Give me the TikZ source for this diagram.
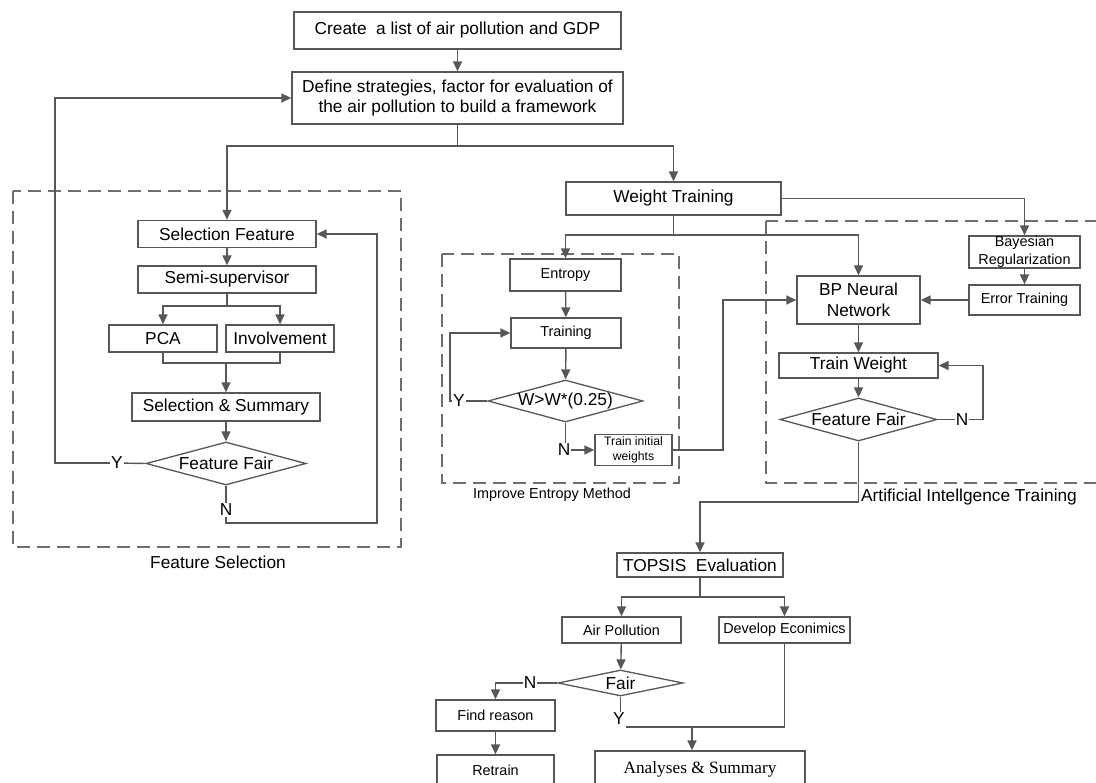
\documentclass[tikz,border=0pt]{standalone}
\usepackage{fontspec}
\setmainfont{Liberation Sans}
\newfontfamily\serifface{Liberation Serif}
\usepackage{tikz}
\usetikzlibrary{arrows.meta,shapes.geometric}
\definecolor{flowgray}{HTML}{575757}
\definecolor{dashgray}{HTML}{6E6E6E}
\newcommand{\bigtxt}{\fontsize{17.3}{20.5}\selectfont}
\newcommand{\midtxt}{\fontsize{14.4}{17.5}\selectfont}
\newcommand{\tinytxt}{\fontsize{12.2}{15}\selectfont}
\begin{document}
\begin{tikzpicture}[x=1pt, y=-1pt,
  stagebox/.style={draw=flowgray, line width=1.3pt, fill=white, inner sep=0pt,
                   align=center, font=\bigtxt},
  minorbox/.style={stagebox, font=\midtxt},
  testdia/.style={diamond, draw=flowgray, line width=1.3pt, fill=white, inner sep=0pt,
                  shape aspect=3.7, align=center, font=\bigtxt},
  flowtag/.style={inner sep=1pt, font=\bigtxt},
  groupframe/.style={draw=dashgray, line width=1.3pt, dash pattern=on 13pt off 7pt},
  arr/.style={-{Triangle[length=10pt,width=9pt]}, line width=1.4pt, draw=flowgray},
  wire/.style={line width=1.4pt, draw=flowgray}
]
\useasboundingbox (0,0) rectangle (1096,783);
\clip (0,0) rectangle (1096,783);

\draw[groupframe] (13,191) rectangle (401,547);
\draw[groupframe] (442,254) rectangle (679,483);
\draw[groupframe] (766,221) rectangle (1120,483);
\node[font=\bigtxt] (fslabel) at (218,562) {Feature Selection};
\node[font=\midtxt] (ielabel) at (552,495) {Improve Entropy Method};
\node[font=\bigtxt] (ailabel) at (969,497) {Artificial Intellgence Training};

\node[stagebox, minimum width=327pt, minimum height=37pt] (listing) at (457.5,30.5) {Create\ \ a list of air pollution and GDP};
\node[stagebox, minimum width=331pt, minimum height=52pt] (define) at (457.5,98) {Define strategies, factor for evaluation of\\the air pollution to build a framework};
\node[stagebox, minimum width=215pt, minimum height=33pt] (weight) at (673.5,198.5) {Weight Training};

\node[stagebox, minimum width=178pt, minimum height=27pt] (selfeat) at (227,234) {Selection Feature};
\node[stagebox, minimum width=178pt, minimum height=27pt] (semisup) at (227,279.5) {Semi-supervisor};
\node[stagebox, minimum width=108pt, minimum height=27pt] (pca) at (163,338.5) {PCA};
\node[stagebox, minimum width=108pt, minimum height=27pt] (involve) at (280,338.5) {Involvement};
\node[stagebox, minimum width=188pt, minimum height=28pt] (selsum) at (226,407) {Selection \& Summary};
\node[testdia, minimum width=160pt, minimum height=43pt] (fairfs) at (226,463.5) {Feature Fair};
\node[flowtag] (yfs) at (117,463) {Y};
\node[flowtag] (nfs) at (226,510) {N};

\node[minorbox, minimum width=111pt, minimum height=32pt] (entropy) at (565.5,275) {Entropy};
\node[minorbox, minimum width=110pt, minimum height=30pt] (training) at (566,333) {Training};
\node[testdia, minimum width=155pt, minimum height=42pt] (wcheck) at (565.5,401) {W>W*(0.25)};
\node[flowtag] (yie) at (459,401) {Y};
\node[flowtag] (nie) at (564,450) {N};
\node[stagebox, font=\tinytxt, minimum width=77pt, minimum height=31pt] (initw) at (633.5,450) {Train initial\\weights};

\node[stagebox, minimum width=123pt, minimum height=48pt] (bpnet) at (858.5,300) {BP Neural\\Network};
\node[minorbox, minimum width=111pt, minimum height=32pt] (bayes) at (1024.5,252) {Bayesian\\Regularization};
\node[minorbox, minimum width=111pt, minimum height=30pt] (errtrain) at (1024.5,300) {Error Training};
\node[stagebox, minimum width=159pt, minimum height=25pt] (trainw) at (858.5,365.5) {Train Weight};
\node[testdia, minimum width=157pt, minimum height=43pt] (fairai) at (858.5,419.5) {Feature Fair};
\node[flowtag] (nai) at (962,419.5) {N};

\node[stagebox, minimum width=166pt, minimum height=24pt] (topsis) at (700,565) {TOPSIS\ \ Evaluation};
\node[minorbox, minimum width=119pt, minimum height=26pt] (airpol) at (621.5,630) {Air Pollution};
\node[minorbox, minimum width=131pt, minimum height=26pt] (develop) at (784.5,630) {Develop Econimics};
\node[testdia, shape aspect=4.8, minimum width=125pt, minimum height=26pt] (fairend) at (620.5,683) {Fair};
\node[flowtag] (nend) at (530,683) {N};
\node[flowtag] (yend) at (619,719) {Y};
\node[minorbox, minimum width=119pt, minimum height=31pt] (reason) at (495.5,715.5) {Find reason};
\node[minorbox, minimum width=117pt, minimum height=30pt] (retrain) at (495.5,770) {Retrain};
\node[stagebox, font=\serifface\bigtxt, minimum width=210pt, minimum height=36pt] (summary) at (700,769) {Analyses \& Summary};

\coordinate (splittop) at (457.5,146);
\coordinate (loopfs) at (55,98);
\coordinate (backfs) at (377,523);
\coordinate (splitfs) at (227,306);
\coordinate (joinfs) at (226,363);
\coordinate (splitwt) at (673.5,235);
\coordinate (loopie) at (450,333);
\coordinate (upie) at (723,300);
\coordinate (turnbr) at (1024.5,198.5);
\coordinate (loopai) at (983,365.5);
\coordinate (downai) at (858.5,502);
\coordinate (splitev) at (700,597);
\coordinate (mergeev) at (784.5,727);
\coordinate (joinev) at (692,727);

\draw[arr] (listing) -- (define);
\draw[wire] (define) -- (splittop);
\draw[arr] (splittop) -| (selfeat.north);
\draw[arr] (splittop) -| (weight.north);

\draw[arr] (selfeat) -- (semisup);
\draw[wire] (semisup) -- (splitfs);
\draw[arr] (splitfs) -| (pca.north);
\draw[arr] (splitfs) -| (involve.north);
\draw[wire] (pca.south) |- (joinfs) -| (involve.south);
\draw[arr] (joinfs) -- (selsum);
\draw[arr] (selsum) -- (fairfs);
\draw[wire] (fairfs.west) -- (yfs);
\draw[arr] (yfs.west) -| (loopfs) -- (define.west);
\draw[wire] (fairfs.south) -- (nfs.north);
\draw[arr] (nfs.south) |- (backfs) |- (selfeat.east);

\draw[wire] (weight) -- (splitwt);
\draw[arr] (splitwt) -| (entropy.north);
\draw[arr] (splitwt) -| (bpnet.north);
\draw[arr] (entropy) -- (training);
\draw[arr] (training) -- (wcheck);
\draw[wire] (wcheck.west) -- (yie);
\draw[arr] (yie.west) -| (loopie) -- (training.west);
\draw[wire] (wcheck.south) -- (wcheck.south |- nie.north);
\draw[arr] (nie.east) -- (initw.west);
\draw[arr] (initw.east) -| (upie) -- (bpnet.west);

\draw[arr] (weight.east) -- (turnbr) -- (bayes.north);
\draw[arr] (bayes) -- (errtrain);
\draw[arr] (errtrain) -- (bpnet);
\draw[arr] (bpnet) -- (trainw);
\draw[arr] (trainw) -- (fairai);
\draw[wire] (fairai.east) -- (nai);
\draw[arr] (nai.east) -| (loopai) -- (trainw.east);
\draw[arr] (fairai.south) -- (downai) -| (topsis.north);

\draw[wire] (topsis) -- (splitev);
\draw[arr] (splitev) -| (airpol.north);
\draw[arr] (splitev) -| (develop.north);
\draw[arr] (airpol) -- (fairend);
\draw[wire] (fairend.west) -- (nend);
\draw[arr] (nend.west) -| (reason.north);
\draw[arr] (reason) -- (retrain);
\draw[wire] (fairend.south) -- (fairend.south |- yend.north);
\draw[wire] (develop.south) -- (mergeev) -- (yend.south east |- mergeev);
\draw[arr] (joinev) -- (joinev |- summary.north);
\end{tikzpicture}
\end{document}
